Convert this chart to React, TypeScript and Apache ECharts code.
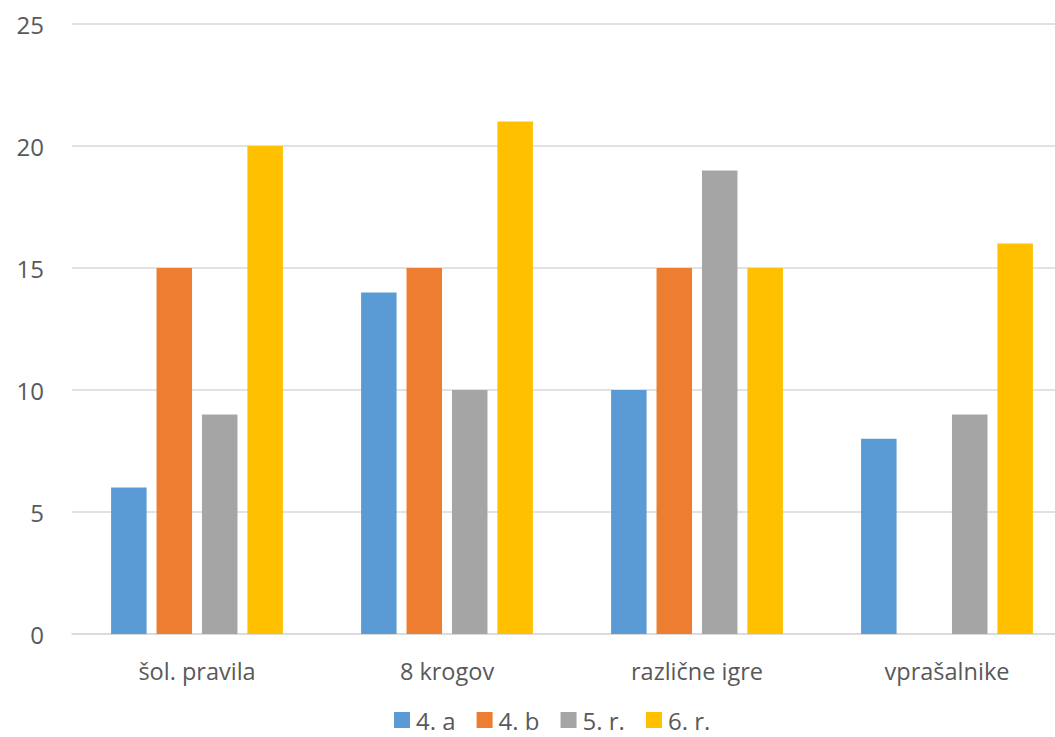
import React, { useEffect, useRef } from "react";
import * as echarts from "echarts";

const categories = ["šol. pravila", "8 krogov", "različne igre", "vprašalnike"];
const seriesNames = ["4. a", "4. b", "5. r.", "6. r."];
const values4a = [6, 14, 10, 8];
const values4b = [15, 15, 15, 0];
const values5r = [9, 10, 19, 9];
const values6r = [20, 21, 15, 16];
const colors = ["#5B9BD5", "#ED7D31", "#A5A5A5", "#FFC000"];
const yTicks = { min: 0, max: 25, interval: 5 };

const FONT = "'Open Sans', 'Noto Sans', sans-serif";

export default function App() {
  const ref = useRef<HTMLDivElement>(null);
  useEffect(() => {
    if (!ref.current) return;
    const chart = echarts.init(ref.current, null, { renderer: "svg" });
    const allValues = [values4a, values4b, values5r, values6r];
    chart.setOption({
      animation: false,
      textStyle: { fontFamily: FONT },
      grid: { left: 72, top: 24, width: 1000, height: 610, containLabel: false },
      legend: {
        data: seriesNames,
        top: 708,
        padding: 0,
        left: 394,
        itemWidth: 16,
        itemHeight: 16,
        itemGap: 21,
        icon: "rect",
        textStyle: { fontSize: 24, lineHeight: 24, color: "#595959", fontFamily: FONT, padding: [0, 0, 0, 1] },
      },
      xAxis: {
        type: "category",
        data: categories,
        axisLine: { show: true, lineStyle: { color: "#D9D9D9", width: 1.5 } },
        axisTick: { show: false },
        axisLabel: { fontSize: 23.5, color: "#595959", margin: 25, fontFamily: FONT },
      },
      yAxis: {
        type: "value",
        min: yTicks.min,
        max: yTicks.max,
        interval: yTicks.interval,
        axisLine: { show: false },
        axisTick: { show: false },
        splitLine: { lineStyle: { color: "#D9D9D9", width: 1.5 } },
        axisLabel: { fontSize: 24, color: "#595959", margin: 28, fontFamily: FONT },
      },
      series: seriesNames.map((name, i) => ({
        name,
        type: "bar",
        data: allValues[i],
        barWidth: 35.5,
        barGap: "28%",
        itemStyle: { color: colors[i] },
      })),
    });
    return () => chart.dispose();
  }, []);
  return (
    <div style={{ position: "fixed", left: 0, top: 0, width: 1055, height: 737, overflow: "hidden", background: "#fff" }}>
      <div ref={ref} style={{ width: 1080, height: 737 }} />
    </div>
  );
}
